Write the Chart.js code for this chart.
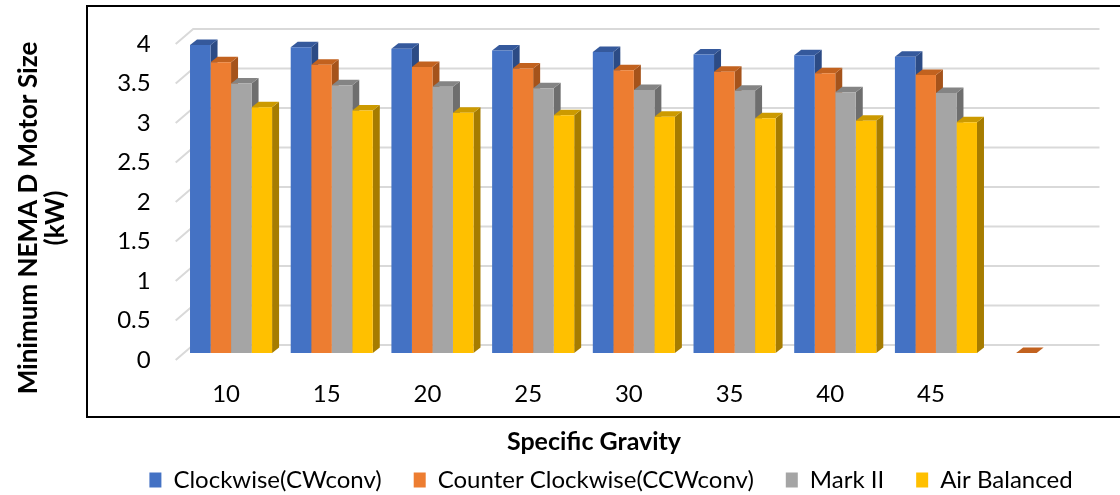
<!DOCTYPE html>
<html>
<head>
<meta charset="utf-8">
<script src="https://cdn.jsdelivr.net/npm/chart.js@4.4.1/dist/chart.umd.min.js"></script>
<style>
  html, body { margin: 0; padding: 0; background: #fff; }
  #wrap { width: 1120px; height: 495px; position: relative; }
</style>
</head>
<body>
<div id="wrap"><canvas id="c" width="1120" height="495"></canvas></div>
<script>
// Specific gravity categories (last slot is an empty category)
const categories = ['10', '15', '20', '25', '30', '35', '40', '45', ''];

// Minimum NEMA D motor size (kW) per pumping unit geometry
const clockwise        = [3.90, 3.87, 3.85, 3.83, 3.81, 3.78, 3.77, 3.75, null];
const counterClockwise = [3.68, 3.65, 3.62, 3.60, 3.58, 3.56, 3.54, 3.52, 0];
const markII           = [3.41, 3.39, 3.37, 3.35, 3.33, 3.32, 3.30, 3.29, null];
const airBalanced      = [3.11, 3.07, 3.04, 3.01, 2.99, 2.97, 2.94, 2.92, null];

const yTicks = [0, 0.5, 1, 1.5, 2, 2.5, 3, 3.5, 4];
const yTickLabels = ['0', '0.5', '1', '1.5', '2', '2.5', '3', '3.5', '4'];

const seriesNames = ['Clockwise(CWconv)', 'Counter Clockwise(CCWconv)', 'Mark II', 'Air Balanced'];
const yTitle = ['Minimum NEMA D Motor Size', '(kW)'];
const xTitle = 'Specific Gravity';

// face colours: front, top, side
const frontColors = ['#4472c4', '#ed7d31', '#a5a5a5', '#ffc000'];
const topColors   = ['#35599c', '#c2621f', '#848484', '#cc9a00'];
const sideColors  = ['#2c4b85', '#a5531b', '#6e6e6e', '#a67c00'];

const FONT = 'Lato, "Open Sans", sans-serif';
const DEPTH = { x: 7, y: -5.5 };      // bar depth
const BAR_SHIFT = { x: 5, y: -7 };    // bar row sits behind the front plane
const WALL = { x: 17.5, y: -15 };     // back wall offset

const seriesData = [clockwise, counterClockwise, markII, airBalanced];

function poly(ctx, pts, color) {
  ctx.fillStyle = color;
  ctx.beginPath();
  ctx.moveTo(pts[0][0], pts[0][1]);
  for (let i = 1; i < pts.length; i++) ctx.lineTo(pts[i][0], pts[i][1]);
  ctx.closePath();
  ctx.fill();
}

const depthPlugin = {
  id: 'depth',
  beforeDraw(chart) {
    const { ctx, chartArea, scales: { y } } = chart;
    ctx.save();
    // walls: slanted side lines + back wall gridlines
    ctx.strokeStyle = '#d9d9d9';
    ctx.lineWidth = 2;
    yTicks.forEach(v => {
      const py = y.getPixelForValue(v);
      ctx.beginPath();
      ctx.moveTo(chartArea.left, py);
      ctx.lineTo(chartArea.left + WALL.x, py + WALL.y);
      ctx.lineTo(chartArea.right + WALL.x, py + WALL.y);
      ctx.stroke();
    });
    // plot frame
    ctx.strokeStyle = '#000';
    ctx.lineWidth = 2;
    ctx.beginPath();
    ctx.moveTo(1130, 6);
    ctx.lineTo(87, 6);
    ctx.lineTo(87, 417);
    ctx.lineTo(1130, 417);
    ctx.stroke();
    ctx.restore();
  },
  beforeDatasetsDraw(chart) {
    const ctx = chart.ctx;
    ctx.save();
    ctx.translate(BAR_SHIFT.x, BAR_SHIFT.y);
    for (let c = 0; c < categories.length; c++) {
      for (let d = 0; d < seriesData.length; d++) {
        const val = chart.data.datasets[d].data[c];
        const el = chart.getDatasetMeta(d).data[c];
        if (val === null || val === undefined || !el) continue;
        const { x, y, base, width } = el.getProps(['x', 'y', 'base', 'width'], true);
        const l = x - width / 2, r = x + width / 2;
        poly(ctx, [[r, y], [r + DEPTH.x, y + DEPTH.y], [r + DEPTH.x, base + DEPTH.y], [r, base]], sideColors[d]);
        poly(ctx, [[l, y], [r, y], [r + DEPTH.x, y + DEPTH.y], [l + DEPTH.x, y + DEPTH.y]], topColors[d]);
      }
    }
  },
  afterDatasetsDraw(chart) {
    chart.ctx.restore();
  },
  afterDraw(chart) {
    const ctx = chart.ctx;
    ctx.save();
    ctx.fillStyle = '#000';
    ctx.textAlign = 'center';
    ctx.textBaseline = 'middle';
    // value axis title
    ctx.font = 'bold 26px ' + FONT;
    ctx.save();
    ctx.translate(29, 218);
    ctx.rotate(-Math.PI / 2);
    yTitle.forEach((line, i) => ctx.fillText(line, 0, i * 27));
    ctx.restore();
    // category axis title
    ctx.font = 'bold 25px ' + FONT;
    ctx.fillText(xTitle, 594, 442);
    ctx.restore();
  }
};

new Chart(document.getElementById('c'), {
  type: 'bar',
  data: {
    labels: categories,
    datasets: seriesData.map((values, i) => ({
      label: seriesNames[i],
      data: values,
      backgroundColor: frontColors[i],
      borderColor: frontColors[i],
      borderWidth: 0,
      categoryPercentage: 0.815,
      barPercentage: 1.0
    }))
  },
  options: {
    responsive: false,
    animation: false,
    events: [],
    layout: { padding: { left: 102, right: 0, top: 44, bottom: -7 } },
    scales: {
      x: {
        grid: { display: false, drawTicks: false },
        border: { display: false },
        ticks: { color: '#000', font: { family: FONT, size: 24 }, padding: 20, maxRotation: 0, autoSkip: false },
        afterFit(scale) { scale.height = 76; }
      },
      y: {
        min: 0,
        max: 4,
        grid: { display: false, drawTicks: false },
        border: { display: false },
        ticks: {
          stepSize: 0.5,
          color: '#000',
          font: { family: FONT, size: 24 },
          padding: 25,
          callback: v => yTickLabels[yTicks.indexOf(v)]
        },
        afterFit(scale) { scale.width = 73.7; }
      },
      side: {
        type: 'linear',
        position: 'right',
        display: true,
        grid: { display: false, drawTicks: false },
        border: { display: false },
        ticks: { display: false },
        afterFit(scale) { scale.width = 38; }
      }
    },
    plugins: {
      legend: {
        position: 'bottom',
        labels: {
          color: '#000',
          font: { family: FONT, size: 24 },
          boxWidth: 12,
          boxHeight: 15,
          padding: 32
        }
      },
      tooltip: { enabled: false }
    }
  },
  plugins: [depthPlugin]
});
</script>
</body>
</html>
